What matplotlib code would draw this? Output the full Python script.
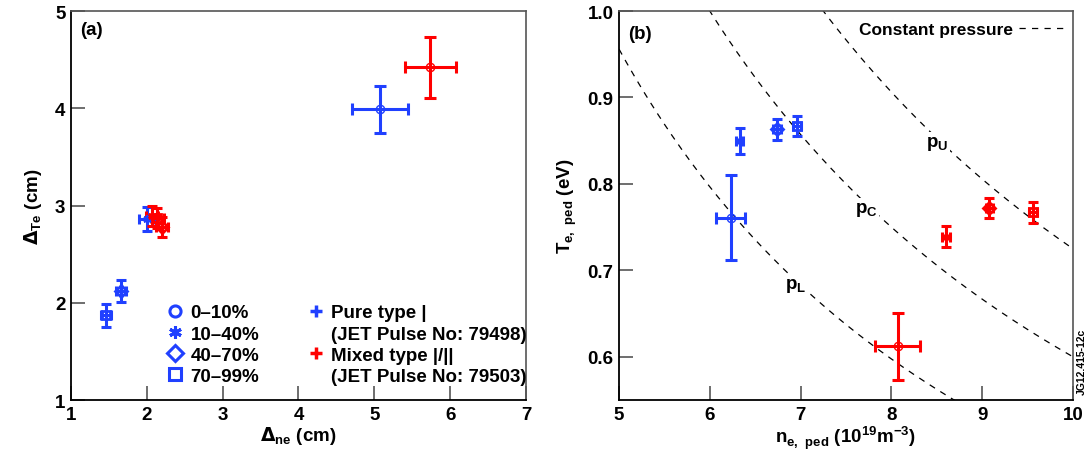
import numpy as np
import matplotlib.pyplot as plt
from matplotlib.lines import Line2D

plt.rcParams['font.family'] = ['Liberation Sans', 'DejaVu Sans']
plt.rcParams['font.weight'] = 'bold'
plt.rcParams['axes.labelweight'] = 'bold'
plt.rcParams['mathtext.default'] = 'bf'

BLUE = '#2040ff'
RED = '#ff0000'

# ELM fraction bins
bins = ['0\u201310%', '10\u201340%', '40\u201370%', '70\u201399%']
bin_markers = ['o', (6, 2, 0), 'D', 's']

# (a) pedestal widths, pure type I (79498)
dne_pure = [5.08, 2.00, 1.66, 1.46]
dne_pure_err = [0.37, 0.10, 0.07, 0.07]
dte_pure = [3.99, 2.86, 2.12, 1.87]
dte_pure_err = [0.24, 0.12, 0.11, 0.12]

# (a) pedestal widths, mixed type I/II (79503)
dne_mix = [5.74, 2.07, 2.20, 2.14]
dne_mix_err = [0.34, 0.08, 0.08, 0.08]
dte_mix = [4.42, 2.89, 2.78, 2.87]
dte_mix_err = [0.31, 0.10, 0.10, 0.10]

# (b) pedestal density / temperature
ne_pure = [6.23, 6.33, 6.74, 6.96]
ne_pure_err = [0.16, 0.04, 0.04, 0.04]
te_pure = [0.761, 0.850, 0.863, 0.867]
te_pure_err = [0.049, 0.015, 0.012, 0.012]

ne_mix = [8.07, 8.60, 9.08, 9.56]
ne_mix_err = [0.25, 0.04, 0.04, 0.04]
te_mix = [0.612, 0.739, 0.772, 0.767]
te_mix_err = [0.039, 0.012, 0.012, 0.012]

# constant pressure isobars n*T
isobar_names = ['L', 'C', 'U']
isobar_values = [4.78, 6.0, 7.25]
isobar_label_n = [6.94, 7.72, 8.5]

fig = plt.figure(figsize=(10.89, 4.52), dpi=100)
ax1 = fig.add_axes([0.0652, 0.1128, 0.4178, 0.8606])
ax2 = fig.add_axes([0.5684, 0.1128, 0.4169, 0.8606])


def draw_points(ax, x, xerr, y, yerr, color):
    for i in range(len(x)):
        big = i == 0
        ax.errorbar(x[i], y[i], xerr=xerr[i], yerr=yerr[i], fmt='none',
                    ecolor=color, elinewidth=2.2, capsize=4.3 if big else 3.5,
                    capthick=2.2, zorder=3)
        m = bin_markers[i]
        if big:
            ax.plot(x[i], y[i], marker=m, ms=6, mfc='none', mec=color,
                    mew=1.0, ls='none', zorder=4)
        else:
            ax.plot(x[i], y[i], marker=m, ms=6, mfc='none', mec=color,
                    mew=2.0, ls='none', zorder=4)


def style_axes(ax):
    ax.tick_params(direction='in', length=10, width=1.2, color='#555555',
                   labelsize=13.5, pad=4, top=False, right=False)
    for lab in ax.get_xticklabels() + ax.get_yticklabels():
        lab.set_fontweight('bold')
    for side in ['left', 'bottom']:
        ax.spines[side].set_color('black')
        ax.spines[side].set_linewidth(1.3)
    for side in ['top', 'right']:
        ax.spines[side].set_color('#555555')
        ax.spines[side].set_linewidth(1.2)


# (a)
draw_points(ax1, dne_pure, dne_pure_err, dte_pure, dte_pure_err, BLUE)
draw_points(ax1, dne_mix, dne_mix_err, dte_mix, dte_mix_err, RED)
ax1.set_xlim(1, 7)
ax1.set_ylim(1, 5)
ax1.set_xticks(range(1, 8))
ax1.set_yticks(range(1, 6))
style_axes(ax1)
ax1.set_xlabel(r'$\Delta_{\mathregular{ne}}$ (cm)', fontsize=13.5, labelpad=1)
ax1.set_ylabel(r'$\Delta_{\mathregular{Te}}$ (cm)', fontsize=13.5, labelpad=8)
ax1.text(0.02, 0.975, '(a)', transform=ax1.transAxes, fontsize=13.5,
         fontweight='bold', va='top')

bin_handles = [Line2D([0], [0], marker=m, color=BLUE, mfc='none', mew=2.2,
                      ms=8 if m != (6, 2, 0) else 9, ls='none')
               for m in bin_markers]
leg1 = ax1.legend(bin_handles, bins, loc='lower left',
                  bbox_to_anchor=(0.18, 0.0), frameon=False, fontsize=13.5,
                  handlelength=0.8, handletextpad=0.4, labelspacing=0.22,
                  borderpad=0.3)
ax1.add_artist(leg1)

plus_blue = Line2D([0], [0], marker='+', color=BLUE, mew=2.5, ms=9, ls='none')
plus_red = Line2D([0], [0], marker='+', color=RED, mew=2.5, ms=9, ls='none')
blank = Line2D([0], [0], ls='none', marker='none')
pulse_labels = ['Pure type |', '(JET Pulse No: 79498)',
                'Mixed type |/||', '(JET Pulse No: 79503)']
ax1.legend([plus_blue, blank, plus_red, blank], pulse_labels,
           loc='lower left', bbox_to_anchor=(0.49, 0.0), frameon=False,
           fontsize=13.5, handlelength=0.8, handletextpad=0.4,
           labelspacing=0.22, borderpad=0.3)

# (b)
n_grid = np.linspace(5, 10, 300)
for name, p, nl in zip(isobar_names, isobar_values, isobar_label_n):
    ax2.plot(n_grid, p / n_grid, ls=(0, (5, 5)), color='black', lw=0.9,
             zorder=2)
    ax2.text(nl, p / nl - 0.006, r'p$_{\mathregular{%s}}$' % name,
             fontsize=13.5, ha='center', va='center',
             bbox=dict(fc='white', ec='none', pad=1.5), zorder=2.5)

draw_points(ax2, ne_pure, ne_pure_err, te_pure, te_pure_err, BLUE)
draw_points(ax2, ne_mix, ne_mix_err, te_mix, te_mix_err, RED)
ax2.set_xlim(5, 10)
ax2.set_ylim(0.55, 1.0)
ax2.set_xticks(range(5, 11))
ax2.set_yticks([0.6, 0.7, 0.8, 0.9, 1.0])
style_axes(ax2)
ax2.set_xlabel(r'n$_{\mathregular{e,\ ped}}$ (10$^{\mathregular{19}}$m$^{\mathregular{-3}}$)',
               fontsize=13.5, labelpad=1)
ax2.set_ylabel(r'T$_{\mathregular{e,\ ped}}$ (eV)', fontsize=13.5, labelpad=6)
ax2.text(0.02, 0.965, '(b)', transform=ax2.transAxes, fontsize=13.5,
         fontweight='bold', va='top')
dash = Line2D([0], [0], ls=(0, (5, 5)), color='black', lw=0.9)
ax2.legend([dash], ['Constant pressure'], loc='upper right', frameon=False,
           fontsize=12.5, markerfirst=False, handlelength=2.5,
           handletextpad=0.35, borderpad=0.3, borderaxespad=0.3)

fig.text(0.9935, 0.2, 'JG12.415-12c', rotation=90, fontsize=7.5,
         fontweight='bold', ha='center', va='center')

fig.savefig('out.png', dpi=100)
